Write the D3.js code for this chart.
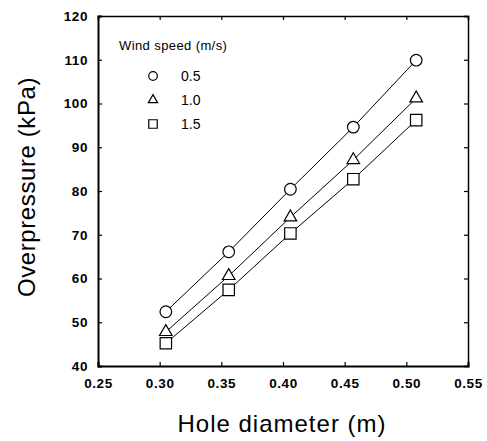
<!DOCTYPE html>
<html>
<head>
<meta charset="utf-8">
<script src="https://cdn.jsdelivr.net/npm/d3@7"></script>
<style>
  body { margin: 0; background: #fff; }
  text { font-family: Arial, "Liberation Sans", sans-serif; fill: #000; }
</style>
</head>
<body>
<div id="chart"></div>
<script>
// data
let holeDiameter = [0.305, 0.356, 0.406, 0.457, 0.508];
let speeds = ['0.5', '1.0', '1.5'];
let p05 = [52.4, 66.1, 80.4, 94.6, 109.9];
let p10 = [47.8, 60.6, 74.0, 87.1, 101.2];
let p15 = [45.2, 57.4, 70.3, 82.7, 96.2];
let xTicks = [0.25, 0.30, 0.35, 0.40, 0.45, 0.50, 0.55];
let yTicks = [40, 50, 60, 70, 80, 90, 100, 110, 120];

let svgWidth = 487;
let svgHeight = 441;
let margin = { top: 16, right: 19, bottom: 75, left: 98 };
let width = svgWidth - margin.left - margin.right;
let height = svgHeight - margin.top - margin.bottom;

let svg = d3.select('#chart').append('svg')
  .attr('width', svgWidth)
  .attr('height', svgHeight);

let g = svg.append('g')
  .attr('transform', `translate(${margin.left}, ${margin.top})`);

let x = d3.scaleLinear().domain([0.25, 0.55]).range([0, width]);
let y = d3.scaleLinear().domain([40, 120]).range([height, 0]);

// frame with inward ticks
let xAxis = g.append('g')
  .attr('transform', `translate(0, ${height})`)
  .call(d3.axisBottom(x).tickValues(xTicks).tickSize(-4).tickPadding(12).tickFormat(d3.format('.2f')));
xAxis.select('.domain').attr('stroke-width', 2);

let yAxis = g.append('g')
  .call(d3.axisLeft(y).tickValues(yTicks).tickSize(-4).tickPadding(10));
yAxis.select('.domain').attr('stroke-width', 2);

g.append('g')
  .call(d3.axisTop(x).tickValues(xTicks).tickSize(-4).tickFormat(''))
  .select('.domain').attr('stroke-width', 1.5);
g.append('g')
  .attr('transform', `translate(${width}, 0)`)
  .call(d3.axisRight(y).tickValues(yTicks).tickSize(-4).tickFormat(''))
  .select('.domain').attr('stroke-width', 1.5);

g.selectAll('.tick line').attr('stroke-width', 1.2);
[xAxis, yAxis].forEach(a => {
  a.attr('font-family', 'Arial, "Liberation Sans", sans-serif')
    .attr('font-size', 13.5)
    .attr('font-weight', 'bold');
  a.selectAll('.tick text').attr('letter-spacing', '0.6px');
});

let series = [
  { name: speeds[0], vals: p05, sym: d3.symbolCircle, size: 106 },
  { name: speeds[1], vals: p10, sym: d3.symbolTriangle, size: 68 },
  { name: speeds[2], vals: p15, sym: d3.symbolSquare, size: 130 }
];

let line = d3.line()
  .x((d, i) => x(holeDiameter[i]))
  .y(d => y(d));

series.forEach(s => {
  g.append('path')
    .attr('d', line(s.vals))
    .attr('fill', 'none')
    .attr('stroke', '#000')
    .attr('stroke-width', 1);

  g.selectAll(null)
    .data(s.vals)
    .enter()
    .append('path')
    .attr('d', d3.symbol().type(s.sym).size(s.size))
    .attr('transform', (d, i) => `translate(${x(holeDiameter[i])}, ${y(d)})`)
    .attr('fill', '#fff')
    .attr('stroke', '#000')
    .attr('stroke-width', 1.2);
});

// legend
let legend = svg.append('g').attr('transform', 'translate(119, 50)');
legend.append('text')
  .attr('x', 0).attr('y', 0)
  .attr('font-size', '13px')
  .attr('letter-spacing', '0.4px')
  .text('Wind speed (m/s)');
series.forEach((s, i) => {
  let ly = 26 + i * 24;
  legend.append('path')
    .attr('d', d3.symbol().type(s.sym).size(s.size * 0.55))
    .attr('transform', `translate(34, ${ly})`)
    .attr('fill', '#fff')
    .attr('stroke', '#000')
    .attr('stroke-width', 1.2);
  legend.append('text')
    .attr('x', 62).attr('y', ly + 5)
    .attr('font-size', '14px')
    .text(s.name);
});

// axis titles
svg.append('text')
  .attr('x', 282)
  .attr('y', 432)
  .attr('text-anchor', 'middle')
  .attr('font-family', 'Roboto, sans-serif')
  .attr('font-size', '24px')
  .attr('font-weight', 300)
  .attr('letter-spacing', '1px')
  .attr('fill', '#222')
  .text('Hole diameter (m)');

svg.append('text')
  .attr('transform', `translate(35, 187) rotate(-90)`)
  .attr('text-anchor', 'middle')
  .attr('font-family', 'Roboto, sans-serif')
  .attr('font-size', '24px')
  .attr('font-weight', 300)
  .attr('letter-spacing', '0.6px')
  .attr('fill', '#222')
  .text('Overpressure (kPa)');
</script>
</body>
</html>
